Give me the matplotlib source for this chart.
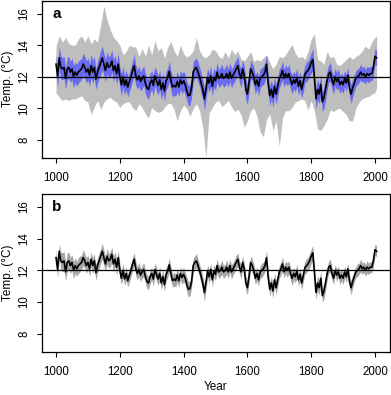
import numpy as np
import matplotlib
matplotlib.use("Agg")
import matplotlib.pyplot as plt

plt.rcParams['font.family'] = ['Liberation Sans', 'DejaVu Sans']

# ---- donnees ----
# reconstruction (pas de 5 ans, 1000 -> 2005)
annees = np.arange(1000, 2006, 5)
temp = [
    12.8, 12.05, 13.2, 12.6, 12.5, 12.6, 11.9, 12.5, 12.6, 12.3, 12.5, 12.0, 12.3, 12.1, 12.3, 12.4, 12.5, 12.8, 12.6, 12.3,
    12.5, 12.1, 12.7, 12.3, 12.6, 11.85, 12.3, 12.6, 12.9, 13.2, 12.8, 12.4, 12.9, 12.6, 12.7, 13.0, 12.4, 12.7, 12.2, 12.8,
    12.0, 11.5, 12.0, 11.45, 11.8, 11.35, 11.7, 12.0, 12.4, 12.7, 12.1, 11.8, 12.05, 11.7, 11.9, 12.05, 11.6, 11.3, 11.2, 11.6,
    11.8, 11.45, 12.05, 11.75, 11.45, 11.8, 11.2, 11.6, 11.1, 11.75, 11.95, 12.35, 11.8, 11.35, 11.45, 11.35, 11.7, 11.35, 11.8, 11.55,
    11.75, 11.5, 11.1, 10.8, 10.85, 11.3, 12.3, 12.5, 12.6, 12.3, 12.0, 11.6, 11.2, 10.6, 11.2, 11.95, 11.6, 12.05, 11.4, 11.95,
    11.75, 12.3, 11.9, 12.0, 12.2, 11.9, 12.0, 12.2, 11.9, 12.3, 11.9, 12.1, 12.3, 12.5, 12.7, 12.2, 11.9, 12.5, 12.1, 11.2,
    10.9, 11.6, 12.5, 12.3, 12.0, 11.5, 11.8, 11.4, 11.9, 12.0, 12.1, 12.3, 12.8, 11.6, 10.8, 11.2, 10.7, 11.4, 10.9, 11.4,
    11.9, 12.1, 12.4, 11.9, 12.2, 12.0, 12.2, 11.8, 11.5, 11.8, 11.6, 11.95, 11.4, 11.75, 11.2, 11.65, 12.15, 12.3, 12.4, 12.6,
    12.9, 13.1, 11.9, 10.6, 11.2, 10.9, 11.5, 10.4, 10.7, 11.2, 11.8, 12.2, 12.3, 11.8, 11.5, 12.0, 11.7, 11.9, 11.5, 11.7,
    11.5, 11.9, 11.6, 12.1, 11.3, 10.9, 11.3, 11.6, 11.9, 12.0, 12.1, 12.3, 12.1, 12.2, 12.0, 12.2, 12.1, 12.2, 12.2, 12.6,
    13.3, 13.2,
]
# demi-largeur de la bande bleue (panneau a)
demi_bleu = [
    0.65, 0.7, 0.7, 0.75, 0.7, 0.7, 0.65, 0.7, 0.7, 0.65, 0.7, 0.7, 0.65, 0.7, 0.7, 0.7, 0.65, 0.7, 0.7, 0.7,
    0.7, 0.7, 0.75, 0.7, 0.7, 0.65, 0.7, 0.7, 0.75, 0.75, 0.7, 0.7, 0.7, 0.65, 0.7, 0.7, 0.7, 0.65, 0.7, 0.7,
    0.65, 0.7, 0.65, 0.6, 0.65, 0.65, 0.6, 0.65, 0.65, 0.7, 0.65, 0.6, 0.65, 0.6, 0.65, 0.6, 0.65, 0.6, 0.65, 0.6,
    0.6, 0.65, 0.6, 0.65, 0.6, 0.6, 0.65, 0.6, 0.65, 0.6, 0.6, 0.65, 0.6, 0.65, 0.6, 0.6, 0.65, 0.6, 0.6, 0.65,
    0.6, 0.65, 0.6, 0.65, 0.65, 0.6, 0.65, 0.6, 0.6, 0.65, 0.6, 0.65, 0.6, 0.7, 0.65, 0.6, 0.6, 0.65, 0.6, 0.6,
    0.6, 0.6, 0.55, 0.6, 0.6, 0.55, 0.6, 0.6, 0.55, 0.6, 0.6, 0.55, 0.6, 0.6, 0.6, 0.55, 0.6, 0.6, 0.6, 0.65,
    0.65, 0.6, 0.6, 0.55, 0.6, 0.6, 0.55, 0.6, 0.6, 0.55, 0.6, 0.6, 0.6, 0.6, 0.65, 0.6, 0.65, 0.6, 0.65, 0.6,
    0.6, 0.55, 0.6, 0.55, 0.6, 0.55, 0.6, 0.55, 0.6, 0.55, 0.55, 0.6, 0.55, 0.6, 0.55, 0.6, 0.55, 0.6, 0.6, 0.6,
    0.65, 0.65, 0.6, 0.65, 0.65, 0.6, 0.65, 0.6, 0.7, 0.65, 0.6, 0.55, 0.6, 0.55, 0.6, 0.55, 0.55, 0.6, 0.55, 0.55,
    0.55, 0.5, 0.55, 0.5, 0.55, 0.6, 0.55, 0.5, 0.5, 0.5, 0.45, 0.5, 0.45, 0.5, 0.45, 0.45, 0.5, 0.45, 0.45, 0.5,
    0.5, 0.5,
]
# demi-largeur de la bande grise (panneau b)
demi_b = [
    0.5, 0.5, 0.45, 0.55, 0.6, 0.6, 0.55, 0.6, 0.55, 0.5, 0.5, 0.55, 0.5, 0.45, 0.5, 0.5, 0.45, 0.5, 0.45, 0.5,
    0.45, 0.5, 0.45, 0.5, 0.45, 0.5, 0.45, 0.5, 0.45, 0.5, 0.5, 0.45, 0.5, 0.45, 0.5, 0.45, 0.5, 0.45, 0.5, 0.45,
    0.45, 0.4, 0.45, 0.4, 0.45, 0.4, 0.45, 0.4, 0.45, 0.4, 0.45, 0.4, 0.45, 0.4, 0.4, 0.45, 0.4, 0.45, 0.4, 0.45,
    0.4, 0.45, 0.4, 0.45, 0.4, 0.45, 0.4, 0.45, 0.4, 0.45, 0.4, 0.45, 0.4, 0.4, 0.45, 0.4, 0.45, 0.4, 0.4, 0.45,
    0.45, 0.4, 0.45, 0.5, 0.45, 0.4, 0.45, 0.4, 0.45, 0.4, 0.4, 0.45, 0.45, 0.55, 0.45, 0.4, 0.45, 0.4, 0.45, 0.4,
    0.4, 0.45, 0.4, 0.4, 0.45, 0.4, 0.4, 0.45, 0.4, 0.4, 0.45, 0.4, 0.4, 0.45, 0.4, 0.4, 0.45, 0.4, 0.4, 0.45,
    0.45, 0.4, 0.4, 0.45, 0.4, 0.4, 0.45, 0.4, 0.4, 0.45, 0.4, 0.4, 0.45, 0.4, 0.45, 0.4, 0.45, 0.4, 0.45, 0.4,
    0.4, 0.4, 0.45, 0.4, 0.4, 0.45, 0.4, 0.4, 0.45, 0.4, 0.4, 0.45, 0.4, 0.4, 0.45, 0.4, 0.4, 0.45, 0.4, 0.45,
    0.45, 0.45, 0.4, 0.45, 0.5, 0.45, 0.45, 0.4, 0.5, 0.45, 0.4, 0.4, 0.4, 0.4, 0.4, 0.35, 0.4, 0.35, 0.4, 0.35,
    0.4, 0.35, 0.4, 0.35, 0.4, 0.45, 0.4, 0.35, 0.35, 0.4, 0.35, 0.4, 0.35, 0.35, 0.35, 0.4, 0.35, 0.35, 0.35, 0.4,
    0.35, 0.35,
]

# enveloppe grise large (panneau a), pas de 10 ans + 2005
annees_gris = np.append(np.arange(1000, 2001, 10), 2005)
gris_haut = [
    13.95, 14.6, 14.2, 14.5, 14.1, 14.0, 14.0, 14.4, 14.6, 14.2,
    14.6, 14.1, 14.4, 14.2, 15.3, 16.5, 15.6, 15.0, 14.5, 14.3,
    14.0, 13.4, 13.6, 14.0, 13.9, 13.9, 13.3, 13.8, 13.3, 14.0,
    13.4, 14.3, 13.65, 13.85, 13.2, 13.85, 14.25, 13.65, 13.3, 14.0,
    13.45, 13.25, 13.4, 13.65, 14.5, 13.65, 13.3, 13.2, 13.4, 13.75,
    13.65, 13.3, 13.15, 13.6, 13.2, 13.75, 13.4, 13.65, 13.1, 13.0,
    13.3, 13.6, 13.0, 13.1, 13.0, 13.2, 13.4, 12.9, 12.5, 12.8,
    13.3, 13.2, 13.4, 13.75, 14.05, 13.5, 13.2, 13.3, 13.1, 13.6,
    14.4, 14.7, 13.1, 13.0, 12.8, 13.6, 13.2, 13.3, 12.8, 12.7,
    12.9, 13.1, 13.3, 13.1, 13.3, 13.4, 13.65, 13.95, 13.75, 14.2,
    14.5, 14.6,
]
gris_bas = [
    11.0, 10.7, 10.5, 10.6, 10.5, 10.6, 10.6, 10.7, 10.8, 10.5,
    10.4, 9.6, 10.1, 10.5, 9.95, 10.4, 10.6, 10.7, 10.5, 10.4,
    10.05, 10.3, 10.4, 10.4, 10.05, 9.85, 10.3, 10.05, 9.65, 9.4,
    10.05, 9.85, 9.75, 9.8, 10.05, 10.3, 10.3, 9.95, 9.2, 9.85,
    10.2, 10.0, 9.5, 10.0, 10.3, 9.85, 8.8, 6.9, 9.7, 10.05,
    10.4, 10.5, 10.1, 10.3, 10.5, 10.1, 9.8, 9.95, 9.6, 8.8,
    9.2, 9.85, 10.05, 9.5, 8.5, 8.2, 9.3, 9.65, 8.6, 9.2,
    7.6, 9.4, 9.85, 9.85, 10.05, 10.4, 10.5, 10.6, 10.5, 9.9,
    10.5, 9.85, 8.7, 8.6, 8.9, 9.3, 9.9, 9.8, 9.95, 10.0,
    9.8, 9.6, 9.2, 9.2, 10.0, 10.4, 10.6, 10.7, 10.75, 10.9,
    11.0, 11.3,
]

temp = np.array(temp)
demi_bleu = np.array(demi_bleu)
demi_b = np.array(demi_b)

# ---- figure ----
fig = plt.figure(figsize=(3.91, 3.95), dpi=100)
ax1 = fig.add_axes([0.1074, 0.600, 0.890, 0.398])
ax2 = fig.add_axes([0.1074, 0.109, 0.890, 0.400])

# panneau a
ax1.fill_between(annees_gris, gris_bas, gris_haut, color='#bebebe', lw=0)
ax1.fill_between(annees, temp - demi_bleu, temp + demi_bleu, color='#6a6af0', lw=0)
ax1.axhline(12, color='black', lw=0.9)
ax1.plot(annees, temp, color='black', lw=1.2)

# panneau b
ax2.fill_between(annees, temp - demi_b, temp + demi_b, color='#a6a6a6', lw=0)
ax2.axhline(12, color='black', lw=0.9)
ax2.plot(annees, temp, color='black', lw=1.2)

for ax, lab in [(ax1, 'a'), (ax2, 'b')]:
    ax.set_xlim(956, 2047)
    ax.set_ylim(6.85, 16.82)
    ax.set_xticks([1000, 1200, 1400, 1600, 1800, 2000])
    ax.set_yticks([8, 10, 12, 14, 16])
    ax.tick_params(direction='out', length=3.6, width=0.8, labelsize=8.3)
    ax.tick_params(axis='x', pad=6.5)
    ax.tick_params(axis='y', pad=5)
    for lbl in ax.get_yticklabels():
        lbl.set_rotation(90)
        lbl.set_va('center')
    for s in ax.spines.values():
        s.set_linewidth(0.9)
    ax.text(0.03, 0.915, lab, transform=ax.transAxes, fontsize=11,
            fontweight='bold', ha='left', va='center')

fig.text(0.02, 0.80, 'Temp. (°C)', rotation=90, ha='center', va='center', fontsize=8.5)
fig.text(0.02, 0.309, 'Temp. (°C)', rotation=90, ha='center', va='center', fontsize=8.5)
fig.text(0.552, 0.02, 'Year', ha='center', va='center', fontsize=8.5)

fig.savefig('out.png', dpi=100)
